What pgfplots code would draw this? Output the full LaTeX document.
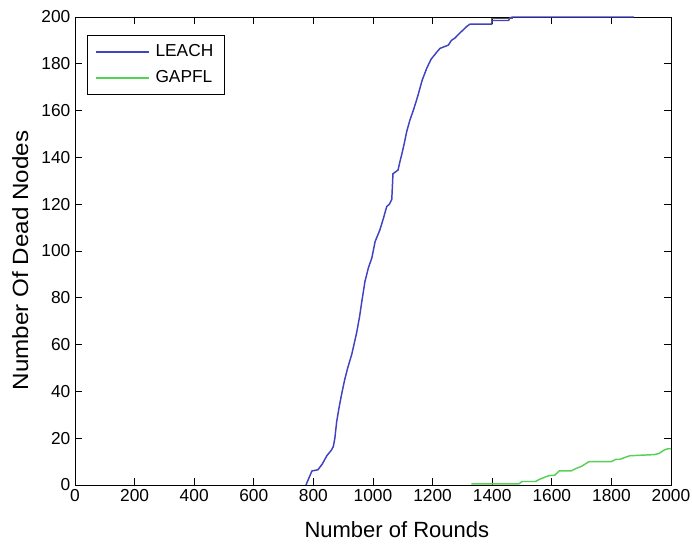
\documentclass[border=0pt]{standalone}
\usepackage{pgfplots}
\pgfplotsset{compat=1.18}
\usepackage{fontspec}
\setmainfont{Liberation Sans}
\definecolor{leachblue}{RGB}{65,65,195}
\definecolor{gapflgreen}{RGB}{85,210,85}
\begin{document}
\begin{tikzpicture}
\useasboundingbox (-56.25pt,-44.25pt) rectangle (462.75pt,363.75pt);
\begin{axis}[
  at={(0,0)}, anchor=south west,
  scale only axis,
  width=447pt, height=351pt,
  xmin=0, xmax=2000, ymin=0, ymax=200,
  xtick={0,200,...,2000}, ytick={0,20,...,200},
  xtick pos=both, ytick pos=both,
  tick align=inside,
  major tick length=5pt,
  clip=false,
  /pgf/number format/assume math mode=true,
  /pgf/number format/1000 sep={},
  tick label style={font=\fontsize{13}{15}\selectfont, black},
  every tick/.style={black, line width=0.6pt},
  axis line style={black, line width=0.7pt},
  xlabel={Number of Rounds},
  ylabel={\scalebox{1.1}[1]{Number Of Dead Nodes}},
  label style={font=\fontsize{16.5}{19}\selectfont},
  xlabel style={at={(axis description cs:0.54,-0.096)}, anchor=center},
  ylabel style={at={(axis description cs:-0.092,0.48)}, anchor=center},
  legend style={at={(0.0201,0.9615)}, anchor=north west, draw=black, line width=0.6pt,
    font=\fontsize{13}{15}\selectfont, cells={anchor=west}, inner xsep=6pt, inner ysep=5pt,
    row sep=5pt, /tikz/every odd column/.append style={column sep=2pt}},
  legend image code/.code={\draw[#1] (0pt,0pt) -- (40pt,0pt);},
]
\addplot[leachblue, line width=1.1pt] table {
x y
775 0
785 3
795 6
815 6.5
830 9
845 12.5
861 15
867 16.5
872 20
878 27
886 33
895 39
905 45
915 50
929 56
945 65
955 72
962 78
973 87
985 93
996 97
1007 104
1023 109
1035 114
1046 119
1055 120
1063 122
1067 133
1084 134.6
1090 138
1096 141
1105 146
1113 151
1124 156
1135 160
1145 164
1152 167
1165 173
1180 178
1195 182
1208 184
1214 185
1225 186.6
1253 188
1263 190
1275 191
1290 193
1302 194.4
1315 196
1326 197
1398 197
1400 198.5
1455 198.5
1460 199.7
1470 200
1875 200
};
\addlegendentry{LEACH}
\addplot[gapflgreen, line width=1.1pt] table {
x y
1330 0.5
1490 0.5
1500 1.5
1545 1.5
1560 2.5
1590 4
1610 4.2
1625 6
1665 6
1680 7
1700 8
1725 10
1800 10
1815 11
1829 11
1850 12
1862 12.5
1945 13
1960 13.5
1978 15
1990 15.5
2000 15.5
};
\addlegendentry{GAPFL}
\addplot[gray!70!black, line width=0.6pt, forget plot] table {
x y
1398 197
1398 199.4
1470 199.4
};
\end{axis}
\end{tikzpicture}
\end{document}
